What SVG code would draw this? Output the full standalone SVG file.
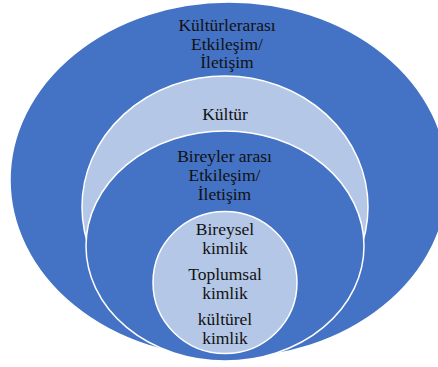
<svg xmlns="http://www.w3.org/2000/svg" width="438" height="367" viewBox="0 0 438 367">
<style>
.dark{fill:#4472C4;stroke:#FFFFFF;stroke-width:1.5}
.light{fill:#B4C7E7;stroke:#FFFFFF;stroke-width:1.5}
.t{font-size:17.5px;fill:#111111;text-anchor:middle}
</style>
<rect width="438" height="367" fill="#FFFFFF"/>
<g id="outer">
<ellipse class="dark" cx="229" cy="180" rx="219" ry="178"/>
<text class="t" font-family="'Liberation Serif', 'DejaVu Serif', serif" x="227" y="31">Kültürlerarası</text>
<text class="t" font-family="'Liberation Serif', 'DejaVu Serif', serif" x="227" y="49.5">Etkileşim/</text>
<text class="t" font-family="'Liberation Serif', 'DejaVu Serif', serif" x="227" y="68">İletişim</text>
</g>
<g id="kultur">
<ellipse class="light" cx="225" cy="207" rx="143" ry="131"/>
<text class="t" font-family="'Liberation Serif', 'DejaVu Serif', serif" x="225" y="120">Kültür</text>
</g>
<g id="bireylerarasi">
<ellipse class="dark" cx="225" cy="246" rx="139" ry="115"/>
<text class="t" font-family="'Liberation Serif', 'DejaVu Serif', serif" x="224.5" y="162">Bireyler arası</text>
<text class="t" font-family="'Liberation Serif', 'DejaVu Serif', serif" x="224.5" y="181">Etkileşim/</text>
<text class="t" font-family="'Liberation Serif', 'DejaVu Serif', serif" x="224.5" y="200">İletişim</text>
</g>
<g id="kimlik">
<ellipse class="light" cx="225" cy="282.5" rx="72" ry="71"/>
<text class="t" font-family="'Liberation Serif', 'DejaVu Serif', serif" x="225" y="235">Bireysel</text>
<text class="t" font-family="'Liberation Serif', 'DejaVu Serif', serif" x="225" y="253.5">kimlik</text>
<text class="t" font-family="'Liberation Serif', 'DejaVu Serif', serif" x="225" y="280">Toplumsal</text>
<text class="t" font-family="'Liberation Serif', 'DejaVu Serif', serif" x="225" y="298.5">kimlik</text>
<text class="t" font-family="'Liberation Serif', 'DejaVu Serif', serif" x="225" y="325">kültürel</text>
<text class="t" font-family="'Liberation Serif', 'DejaVu Serif', serif" x="225" y="343.5">kimlik</text>
</g>
<g id="connectors"></g>
</svg>
